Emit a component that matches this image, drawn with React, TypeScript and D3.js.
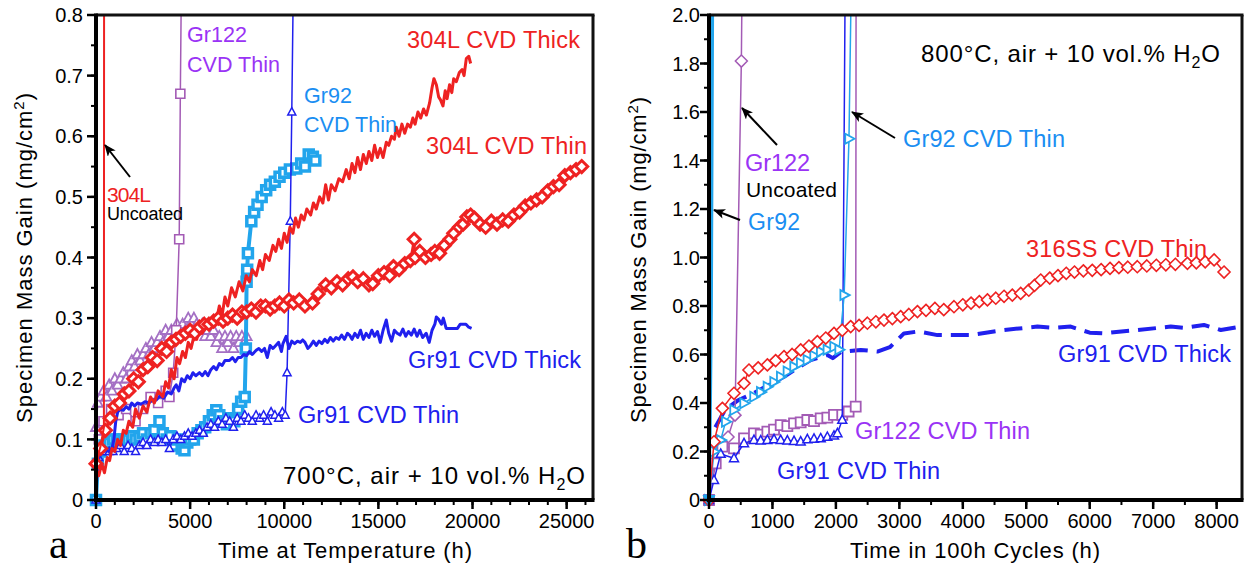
import React from 'react';
import * as d3 from 'd3';

type P = [number, number];

// ---------------- Panel a : 700°C, time at temperature (h) vs mass gain (mg/cm²)
const a304LUncoated: P[] = [[0, 0.06], [250, 0.09], [420, 0.12], [430, 0.9]];

const a304LThin: P[] = [[0,0.06],[250,0.085],[500,0.115],[750,0.135],[1000,0.155],[1250,0.16],[1500,0.175],[1750,0.18],[2000,0.2],[2250,0.195],[2500,0.215],[2750,0.22],[3000,0.235],[3250,0.23],[3500,0.25],[3750,0.245],[4000,0.26],[4250,0.265],[4500,0.27],[4750,0.275],[5000,0.28],[5250,0.275],[5500,0.285],[5750,0.29],[6000,0.29],[6250,0.295],[6500,0.3],[6750,0.295],[7000,0.3],[7250,0.305],[7500,0.3],[7750,0.31],[8000,0.31],[8250,0.315],[8500,0.31],[8750,0.32],[9000,0.32],[9250,0.315],[9500,0.32],[9750,0.325],[10000,0.32],[10250,0.33],[10500,0.325],[10800,0.33],[11100,0.32],[11500,0.325],[11800,0.34],[12200,0.355],[12500,0.35],[12800,0.36],[13100,0.355],[13400,0.365],[13650,0.368],[13900,0.36],[14200,0.365],[14500,0.355],[14700,0.357],[15000,0.37],[15300,0.375],[15600,0.37],[15800,0.385],[16100,0.38],[16400,0.39],[16700,0.395],[16900,0.43],[16950,0.4],[17200,0.41],[17500,0.4],[17800,0.405],[18000,0.41],[18250,0.407],[18500,0.42],[18800,0.43],[19000,0.44],[19300,0.45],[19500,0.455],[19700,0.467],[19900,0.47],[20100,0.465],[20400,0.455],[20700,0.45],[21000,0.46],[21300,0.455],[21600,0.462],[21900,0.46],[22200,0.47],[22500,0.475],[22800,0.485],[23100,0.49],[23400,0.495],[23700,0.5],[24000,0.51],[24300,0.517],[24600,0.52],[24900,0.535],[25200,0.54],[25500,0.545],[25800,0.55]];

const a304LThick: P[] = [[0,0.05],[150,0.04],[300,0.06],[450,0.045],[600,0.07],[720,0.065],[850,0.085],[1000,0.08],[1150,0.1],[1300,0.09],[1450,0.115],[1600,0.11],[1750,0.13],[1950,0.12],[2100,0.15],[2300,0.135],[2500,0.155],[2700,0.145],[2900,0.17],[3100,0.16],[3300,0.18],[3550,0.17],[3700,0.195],[3850,0.185],[4000,0.215],[4150,0.2],[4300,0.235],[4440,0.225],[4600,0.245],[4750,0.235],[4900,0.26],[5050,0.25],[5200,0.27],[5350,0.265],[5500,0.285],[5650,0.275],[5800,0.295],[6000,0.285],[6200,0.3],[6390,0.295],[6550,0.32],[6700,0.305],[6850,0.335],[7000,0.32],[7200,0.35],[7400,0.335],[7600,0.36],[7800,0.345],[7980,0.37],[8150,0.36],[8300,0.38],[8510,0.37],[8700,0.395],[8850,0.38],[9000,0.405],[9200,0.395],[9400,0.42],[9550,0.41],[9700,0.43],[9850,0.415],[10000,0.44],[10150,0.425],[10300,0.45],[10460,0.44],[10600,0.465],[10750,0.45],[10900,0.47],[11050,0.462],[11200,0.48],[11400,0.47],[11550,0.49],[11700,0.48],[11880,0.5],[12050,0.49],[12200,0.52],[12350,0.495],[12500,0.52],[12700,0.51],[12900,0.53],[13100,0.525],[13290,0.545],[13450,0.53],[13600,0.555],[13750,0.54],[13900,0.565],[14050,0.545],[14200,0.57],[14360,0.555],[14500,0.575],[14650,0.56],[14800,0.585],[14950,0.565],[15100,0.58],[15250,0.565],[15420,0.59],[15550,0.585],[15700,0.6],[15850,0.595],[15950,0.615],[16100,0.6],[16250,0.62],[16400,0.605],[16550,0.62],[16700,0.615],[16830,0.63],[16950,0.62],[17100,0.64],[17250,0.63],[17400,0.645],[17550,0.635],[17720,0.655],[17850,0.68],[17950,0.695],[18080,0.685],[18200,0.665],[18300,0.66],[18430,0.65],[18550,0.675],[18650,0.662],[18780,0.685],[18900,0.672],[19000,0.695],[19140,0.69],[19300,0.705],[19450,0.71],[19550,0.7],[19670,0.728],[19800,0.732],[19900,0.72]];

const aGr91Thick: P[] = [[100,0.06],[250,0.08],[400,0.08],[550,0.082],[700,0.08],[850,0.085],[950,0.1],[1050,0.13],[1150,0.145],[1300,0.15],[1450,0.148],[1600,0.154],[1750,0.15],[1900,0.16],[2050,0.155],[2200,0.16],[2400,0.158],[2600,0.162],[2800,0.16],[3000,0.165],[3200,0.165],[3400,0.172],[3600,0.168],[3800,0.178],[4000,0.175],[4150,0.185],[4260,0.19],[4400,0.18],[4550,0.2],[4700,0.195],[4850,0.205],[5000,0.2],[5150,0.21],[5300,0.205],[5500,0.21],[5650,0.205],[5800,0.212],[5950,0.205],[6100,0.215],[6250,0.22],[6400,0.215],[6550,0.225],[6700,0.222],[6850,0.23],[7090,0.23],[7250,0.235],[7400,0.228],[7550,0.235],[7700,0.235],[7850,0.24],[8000,0.238],[8150,0.245],[8300,0.24],[8510,0.247],[8650,0.25],[8800,0.245],[8950,0.25],[9100,0.235],[9250,0.255],[9400,0.25],[9550,0.255],[9700,0.26],[9850,0.245],[9930,0.258],[10100,0.27],[10250,0.25],[10400,0.262],[10550,0.258],[10700,0.262],[10850,0.26],[10980,0.264],[11100,0.26],[11250,0.25],[11400,0.255],[11550,0.262],[11700,0.255],[11850,0.262],[12000,0.258],[12150,0.265],[12300,0.26],[12450,0.268],[12600,0.262],[12750,0.268],[12900,0.265],[13050,0.272],[13200,0.265],[13350,0.275],[13470,0.272],[13600,0.265],[13750,0.275],[13900,0.268],[14050,0.28],[14200,0.265],[14350,0.275],[14500,0.268],[14650,0.28],[14800,0.27],[14950,0.278],[15100,0.26],[15250,0.28],[15420,0.297],[15550,0.275],[15700,0.262],[15850,0.28],[16000,0.275],[16150,0.272],[16300,0.282],[16450,0.27],[16600,0.278],[16750,0.272],[16900,0.282],[17050,0.27],[17200,0.28],[17350,0.268],[17540,0.275],[17700,0.26],[17850,0.28],[18000,0.29],[18080,0.302],[18200,0.298],[18350,0.29],[18450,0.3],[18600,0.283],[18800,0.283],[19000,0.283],[19200,0.283],[19350,0.29],[19500,0.29],[19650,0.29],[19800,0.285],[19950,0.283]];

const aGr91Thin: P[] = [[0,0],[150,0.07],[300,0.08],[500,0.08],[700,0.08],[900,0.08],[1100,0.085],[1300,0.09],[1500,0.08],[1700,0.09],[1900,0.085],[2100,0.08],[2300,0.09],[2500,0.095],[2700,0.09],[2900,0.1],[3100,0.095],[3300,0.1],[3500,0.095],[3700,0.1],[3900,0.085],[4100,0.1],[4300,0.105],[4500,0.1],[4700,0.105],[4900,0.11],[5100,0.105],[5300,0.11],[5500,0.115],[5700,0.11],[5900,0.12],[6100,0.125],[6300,0.12],[6500,0.13],[6700,0.125],[6900,0.135],[7100,0.13],[7300,0.12],[7500,0.135],[7700,0.13],[7900,0.14],[8100,0.135],[8300,0.13],[8500,0.14],[8700,0.135],[8900,0.14],[9100,0.13],[9300,0.145],[9500,0.14],[9700,0.135],[9900,0.145],[10050,0.14],[10150,0.21],[10320,0.46],[10400,0.64],[10500,0.9]];

const aGr92Thin: P[] = [[0,0],[100,0.06],[250,0.08],[450,0.09],[700,0.094],[900,0.1],[1100,0.1],[1300,0.095],[1500,0.1],[1700,0.1],[1900,0.105],[2100,0.1],[2310,0.104],[2500,0.11],[2700,0.1],[2900,0.11],[3100,0.115],[3370,0.13],[3550,0.11],[3750,0.1],[3950,0.105],[4150,0.09],[4350,0.1],[4550,0.085],[4700,0.082],[4850,0.095],[5000,0.1],[5200,0.1],[5400,0.11],[5600,0.115],[5800,0.12],[6000,0.13],[6200,0.14],[6390,0.148],[6550,0.14],[6750,0.13],[6950,0.125],[7150,0.135],[7350,0.13],[7550,0.15],[7710,0.162],[7900,0.17],[7960,0.25],[8000,0.36],[8030,0.38],[8070,0.407],[8250,0.46],[8400,0.475],[8580,0.487],[8800,0.5],[9040,0.511],[9250,0.52],[9500,0.525],[9750,0.533],[10000,0.54],[10300,0.545],[10640,0.547],[10900,0.555],[11100,0.55],[11300,0.57],[11520,0.566],[11650,0.56]];

const aGr122Thin: P[] = [[0,0],[150,0.1],[400,0.13],[800,0.15],[1200,0.14],[1600,0.15],[2100,0.13],[2500,0.15],[2900,0.17],[3300,0.16],[3700,0.18],[3900,0.17],[4100,0.21],[4260,0.28],[4420,0.43],[4480,0.67],[4550,0.9]];

const aGr122Tri: P[] = [[0,0.12],[100,0.16],[250,0.17],[400,0.18],[550,0.17],[700,0.19],[850,0.18],[1000,0.2],[1150,0.19],[1300,0.2],[1450,0.21],[1600,0.2],[1750,0.22],[1900,0.23],[2050,0.22],[2200,0.24],[2350,0.23],[2500,0.24],[2650,0.25],[2800,0.24],[2950,0.26],[3100,0.25],[3250,0.26],[3400,0.27],[3550,0.26],[3700,0.28],[3850,0.27],[4000,0.28],[4150,0.27],[4300,0.29],[4450,0.28],[4600,0.29],[4750,0.28],[4900,0.3],[5050,0.29],[5200,0.3],[5350,0.29],[5500,0.28],[5650,0.29],[5800,0.27],[5950,0.28],[6100,0.27],[6250,0.28],[6400,0.26],[6550,0.27],[6700,0.25],[6850,0.27],[7000,0.26],[7150,0.27],[7300,0.25],[7450,0.27],[7600,0.26],[7750,0.27],[7900,0.26],[8000,0.27]];

const aXTicks = [0, 5000, 10000, 15000, 20000, 25000];
const aYTicks = [0, 0.1, 0.2, 0.3, 0.4, 0.5, 0.6, 0.7, 0.8];

// ---------------- Panel b : 800°C, time in 100h cycles
const bGr92Uncoated: P[] = [[0, 0], [30, 0.8], [50, 2.1]];
const bGr122Uncoated: P[] = [[0,0],[80,0.15],[200,0.22],[300,0.26],[410,0.35],[510,1.81],[520,2.1]];
const bGr92Thin: P[] = [[0,0],[80,0.2],[184,0.247],[263,0.323],[394,0.371],[552,0.399],[709,0.426],[815,0.445],[920,0.467],[1025,0.487],[1130,0.508],[1235,0.53],[1340,0.55],[1445,0.565],[1550,0.577],[1655,0.595],[1760,0.612],[1865,0.62],[1970,0.632],[2050,0.62],[2130,0.845],[2206,1.49],[2240,2.1]];
const bGr91Thin: P[] = [[0,0],[79,0.082],[184,0.19],[394,0.172],[552,0.234],[709,0.247],[815,0.245],[920,0.247],[1025,0.25],[1130,0.247],[1235,0.245],[1340,0.243],[1445,0.241],[1550,0.25],[1655,0.252],[1760,0.254],[1865,0.26],[1970,0.265],[2024,0.275],[2100,0.33],[2145,2.1]];
const bGr122Thin: P[] = [[0,0],[106,0.151],[211,0.22],[394,0.213],[552,0.254],[709,0.275],[815,0.27],[920,0.282],[1025,0.29],[1130,0.309],[1235,0.305],[1340,0.316],[1445,0.32],[1550,0.33],[1655,0.325],[1760,0.337],[1865,0.34],[1970,0.351],[2100,0.351],[2200,0.365],[2312,0.385],[2318,2.1]];
const b316SSThin: P[] = [[0,0],[79,0.24],[211,0.378],[394,0.44],[552,0.481],[630,0.536],[775,0.545],[920,0.557],[1050,0.575],[1182,0.591],[1310,0.6],[1445,0.619],[1575,0.635],[1708,0.653],[1840,0.668],[1970,0.687],[2100,0.7],[2233,0.715],[2365,0.72],[2496,0.729],[2630,0.735],[2758,0.742],[2890,0.748],[3021,0.756],[3150,0.765],[3285,0.777],[3420,0.782],[3560,0.79],[3700,0.785],[3861,0.797],[4000,0.805],[4130,0.812],[4260,0.818],[4388,0.825],[4520,0.832],[4650,0.84],[4780,0.845],[4912,0.852],[5040,0.865],[5130,0.885],[5228,0.907],[5370,0.915],[5500,0.925],[5630,0.935],[5760,0.94],[5900,0.945],[6040,0.947],[6180,0.95],[6320,0.955],[6460,0.958],[6600,0.96],[6750,0.962],[6900,0.965],[7050,0.968],[7200,0.97],[7350,0.972],[7540,0.976],[7680,0.978],[7820,0.982],[7960,0.99],[8117,0.94]];
const bGr91Thick: P[] = [[100,0.3],[250,0.37],[450,0.41],[700,0.44],[950,0.475],[1182,0.508],[1400,0.545],[1603,0.577],[1866,0.598],[1950,0.585],[2075,0.61],[2390,0.619],[2654,0.612],[2850,0.63],[3073,0.687],[3300,0.695],[3600,0.68],[4125,0.68],[4650,0.701],[5176,0.715],[5450,0.71],[5700,0.715],[6000,0.69],[6225,0.687],[6500,0.695],[6752,0.701],[7277,0.715],[7500,0.71],[7800,0.722],[8065,0.701],[8380,0.715]];
const bOriginMarks: P[] = [[0, 0]];

const bXTicks = [0, 1000, 2000, 3000, 4000, 5000, 6000, 7000, 8000];
const bYTicks = [0, 0.2, 0.4, 0.6, 0.8, 1.0, 1.2, 1.4, 1.6, 1.8, 2.0];

// ---------------- styling
const FONT = "'Liberation Sans', Arial, Helvetica, sans-serif";
const RED = '#ee2222';
const BLUE = '#2020ee';
const LBLUE = '#22a5ec';
const LBLUE_TXT = '#1a8ef2';
const PURPLE = '#a35bb5';
const PURPLE_LT = '#a470c4';
const VIOLET = '#9a33f5';

type Shape = 'square' | 'diamond' | 'triUp' | 'triDown' | 'triRight';
function markerPath(shape: Shape, s: number): string {
  const h = s / 2;
  switch (shape) {
    case 'square': return `M${-h},${-h}H${h}V${h}H${-h}Z`;
    case 'diamond': { const k = h * 1.2; return `M0,${-k}L${k},0L0,${k}L${-k},0Z`; }
    case 'triUp': return `M0,${-h * 1.1}L${h},${h * 0.75}L${-h},${h * 0.75}Z`;
    case 'triDown': return `M0,${h * 1.1}L${h},${-h * 0.75}L${-h},${-h * 0.75}Z`;
    case 'triRight': return `M${h * 1.1},0L${-h * 0.75},${h}L${-h * 0.75},${-h}Z`;
  }
}

interface SeriesProps {
  data: P[]; x: d3.ScaleLinear<number, number>; y: d3.ScaleLinear<number, number>;
  color: string; width: number; dash?: string; marker?: Shape; msize?: number; mstroke?: number; mfill?: string; mcolor?: string; noLine?: boolean;
}
function Series({ data, x, y, color, width, dash, marker, msize = 9, mstroke = 1.5, mfill = '#fff', mcolor, noLine }: SeriesProps) {
  const line = d3.line<P>().x(d => x(d[0])).y(d => y(d[1]));
  return (
    <g>
      {!noLine && <path d={line(data) || ''} fill="none" stroke={color} strokeWidth={width} strokeDasharray={dash} strokeLinejoin="round" />}
      {marker && data.map((d, i) => (
        <path key={i} d={markerPath(marker, msize)} transform={`translate(${x(d[0])},${y(d[1])})`} fill={mfill} stroke={mcolor || color} strokeWidth={mstroke} />
      ))}
    </g>
  );
}

interface AxesProps {
  x: d3.ScaleLinear<number, number>; y: d3.ScaleLinear<number, number>;
  xTicks: number[]; xMinorStep: number; yTicks: number[]; yMinorStep: number;
  left: number; right: number; top: number; bottom: number; yLabelX: number; yFmt: (v: number) => string;
}
function Axes({ x, y, xTicks, xMinorStep, yTicks, yMinorStep, left, right, top, bottom, yLabelX, yFmt }: AxesProps) {
  const xd = x.domain();
  const yd = y.domain();
  const xMinor = d3.range(0, xd[1] + 1e-6, xMinorStep);
  const yMinor = d3.range(0, yd[1] + 1e-6, yMinorStep);
  return (
    <g>
      {xMinor.map((t, i) => <line key={'xm' + i} x1={x(t)} x2={x(t)} y1={bottom} y2={bottom + 5} stroke="#000" strokeWidth={2} />)}
      {xTicks.map((t, i) => (
        <g key={'xt' + i}>
          <line x1={x(t)} x2={x(t)} y1={bottom} y2={bottom + 9} stroke="#000" strokeWidth={2.5} />
          <text x={x(t)} y={528} textAnchor="middle" fontSize={20} fontFamily={FONT} fill="#000">{String(t)}</text>
        </g>
      ))}
      {yMinor.map((v, i) => <line key={'ym' + i} x1={left - 5} x2={left} y1={y(v)} y2={y(v)} stroke="#000" strokeWidth={2} />)}
      {yTicks.map((v, i) => (
        <g key={'yt' + i}>
          <line x1={left - 9} x2={left} y1={y(v)} y2={y(v)} stroke="#000" strokeWidth={2.5} />
          <text x={yLabelX} y={y(v)} dy="0.36em" textAnchor="end" fontSize={20} fontFamily={FONT} fill="#000">{yFmt(v)}</text>
        </g>
      ))}
      <line x1={left} x2={right + 1.5} y1={top} y2={top} stroke="#111" strokeWidth={3} />
      <line x1={right} x2={right} y1={top} y2={bottom} stroke="#111" strokeWidth={3} />
      <line x1={left} x2={left} y1={top - 1.5} y2={bottom + 2} stroke="#000" strokeWidth={4} />
      <line x1={left - 2} x2={right + 1.5} y1={bottom} y2={bottom} stroke="#000" strokeWidth={4} />
    </g>
  );
}

function Lbl({ x, y, w, size, color, children }: { x: number; y: number; w?: number; size: number; color: string; children: React.ReactNode }) {
  return (
    <text x={x} y={y} fontSize={size} fill={color} fontFamily={FONT} textLength={w} lengthAdjust={w ? 'spacing' : undefined}>{children}</text>
  );
}

function Arrow({ x1, y1, x2, y2 }: { x1: number; y1: number; x2: number; y2: number }) {
  return <line x1={x1} y1={y1} x2={x2} y2={y2} stroke="#000" strokeWidth={2} markerEnd="url(#arrowhead)" />;
}

export default function App() {
  // Panel a geometry
  const A = { left: 96, right: 593, top: 15, bottom: 500 };
  const xa = d3.scaleLinear().domain([0, 26400]).range([A.left, A.right]);
  const ya = d3.scaleLinear().domain([0, 0.8]).range([A.bottom, A.top]);
  // Panel b geometry
  const B = { left: 709, right: 1242, top: 15, bottom: 500 };
  const xb = d3.scaleLinear().domain([0, 8400]).range([B.left, B.right]);
  const yb = d3.scaleLinear().domain([0, 2]).range([B.bottom, B.top]);

  const fmtA = (v: number) => (v === 0 ? '0' : d3.format('.1f')(v));
  const fmtB = (v: number) => (v === 0 ? '0' : d3.format('.1f')(v));

  return (
    <svg width={1249} height={567} viewBox="0 0 1249 567" style={{ position: 'absolute', left: 0, top: 0, background: '#fff', display: 'block' }}>
      <defs>
        <clipPath id="clipA"><rect x={A.left - 12} y={A.top} width={A.right - A.left + 12} height={A.bottom - A.top + 12} /></clipPath>
        <clipPath id="clipB"><rect x={B.left - 12} y={B.top} width={B.right - B.left + 12} height={B.bottom - B.top + 12} /></clipPath>
        <marker id="arrowhead" viewBox="0 0 12 10" refX="11" refY="5" markerWidth="12" markerHeight="10" markerUnits="userSpaceOnUse" orient="auto">
          <path d="M0,0L12,5L0,10L3,5Z" fill="#000" />
        </marker>
      </defs>
      <rect x={0} y={0} width={1249} height={567} fill="#fff" />

      {/* ---------- Panel a ---------- */}
      <g clipPath="url(#clipA)">
        <Series data={aGr122Tri} x={xa} y={ya} color={PURPLE_LT} width={1.5} marker="triUp" msize={10} mstroke={1.8} />
        <Series data={aGr122Thin} x={xa} y={ya} color={PURPLE} width={1.5} marker="square" msize={9} mstroke={1.6} />
        <Series data={aGr92Thin} x={xa} y={ya} color={LBLUE} width={4} marker="square" msize={9} mstroke={3.5} />
        <Series data={aGr91Thin} x={xa} y={ya} color={BLUE} width={1.5} marker="triUp" msize={8} mstroke={1.5} />
        <Series data={aGr91Thick} x={xa} y={ya} color={BLUE} width={3} />
        <Series data={a304LThick} x={xa} y={ya} color={RED} width={3} />
        <Series data={a304LThin} x={xa} y={ya} color={RED} width={2.5} marker="diamond" msize={10} mstroke={3} />
        <Series data={a304LUncoated} x={xa} y={ya} color={RED} width={2} />
      </g>
      <Axes x={xa} y={ya} xTicks={aXTicks} xMinorStep={1000} yTicks={aYTicks} yMinorStep={0.05}
        left={A.left} right={A.right} top={A.top} bottom={A.bottom} yLabelX={83} yFmt={fmtA} />

      <Lbl x={187} y={42} w={60} size={21.5} color={VIOLET}>Gr122</Lbl>
      <Lbl x={187} y={72} w={93} size={21.5} color={VIOLET}>CVD Thin</Lbl>
      <Lbl x={407} y={48} w={173} size={23.5} color={RED}>304L CVD Thick</Lbl>
      <Lbl x={304} y={103} w={48} size={21.5} color={LBLUE_TXT}>Gr92</Lbl>
      <Lbl x={304} y={132} w={93} size={21.5} color={LBLUE_TXT}>CVD Thin</Lbl>
      <Lbl x={426} y={154} w={161} size={23.5} color={RED}>304L CVD Thin</Lbl>
      <Lbl x={107} y={202} w={44} size={21} color={RED}>304L</Lbl>
      <Lbl x={107} y={220} w={76} size={18} color="#000">Uncoated</Lbl>
      <Arrow x1={130} y1={177} x2={105} y2={145} />
      <Lbl x={408} y={368} w={173} size={23.5} color={BLUE}>Gr91 CVD Thick</Lbl>
      <Lbl x={298} y={423} w={161} size={23.5} color={BLUE}>Gr91 CVD Thin</Lbl>
      <text x={283} y={484} fontSize={24} fontFamily={FONT} fill="#000" textLength={302} lengthAdjust="spacing">
        700°C, air + 10 vol.% H<tspan dy={6} fontSize={16}>2</tspan><tspan dy={-6}>O</tspan>
      </text>
      <text x={345} y={558} textAnchor="middle" fontSize={22} fontFamily={FONT} fill="#000" textLength={254} lengthAdjust="spacing">Time at Temperature (h)</text>
      <text transform="translate(32,258) rotate(-90)" textAnchor="middle" fontSize={22} fontFamily={FONT} fill="#000" textLength={330} lengthAdjust="spacing">
        Specimen Mass Gain (mg/cm<tspan dy={-8} fontSize={15}>2</tspan><tspan dy={8}>)</tspan>
      </text>
      <text x={49} y={558} fontSize={42} fontFamily="'Liberation Serif', 'Times New Roman', serif" fill="#000">a</text>

      {/* ---------- Panel b ---------- */}
      <g clipPath="url(#clipB)">
        <Series data={bGr91Thick} x={xb} y={yb} color={BLUE} width={4} dash="18,9" />
        <Series data={bGr92Uncoated} x={xb} y={yb} color={LBLUE} width={4} />
        <Series data={bGr122Uncoated} x={xb} y={yb} color={PURPLE} width={1.5} marker="diamond" msize={10} mstroke={1.5} />
        <Series data={bGr122Thin} x={xb} y={yb} color={PURPLE} width={1.5} marker="square" msize={10} mstroke={1.8} />
        <Series data={bGr91Thin} x={xb} y={yb} color={BLUE} width={1.5} marker="triUp" msize={9} mstroke={1.5} />
        <Series data={bGr92Thin} x={xb} y={yb} color={LBLUE} width={1.5} marker="triRight" msize={10} mstroke={1.8} />
        <Series data={b316SSThin} x={xb} y={yb} color={RED} width={1.5} marker="diamond" msize={10} mstroke={1.6} />
        <Series data={bOriginMarks} x={xb} y={yb} color={LBLUE} width={0} noLine marker="triDown" msize={12} mstroke={1} mfill={LBLUE} />
      </g>
      <Axes x={xb} y={yb} xTicks={bXTicks} xMinorStep={500} yTicks={bYTicks} yMinorStep={0.1}
        left={B.left} right={B.right} top={B.top} bottom={B.bottom} yLabelX={700} yFmt={fmtB} />

      <text x={921} y={62} fontSize={24} fontFamily={FONT} fill="#000" textLength={299} lengthAdjust="spacing">
        800°C, air + 10 vol.% H<tspan dy={6} fontSize={16}>2</tspan><tspan dy={-6}>O</tspan>
      </text>
      <Lbl x={903} y={147} w={162} size={23.5} color={LBLUE_TXT}>Gr92 CVD Thin</Lbl>
      <Arrow x1={895} y1={138} x2={852} y2={112} />
      <Lbl x={745} y={171} w={65} size={23.5} color={VIOLET}>Gr122</Lbl>
      <Lbl x={746} y={197} w={91} size={21} color="#000">Uncoated</Lbl>
      <Arrow x1={777} y1={145} x2={742} y2={108} />
      <Lbl x={748} y={230} w={52} size={23} color={LBLUE_TXT}>Gr92</Lbl>
      <Arrow x1={740} y1={220} x2={714} y2={210} />
      <Lbl x={1026} y={257} w={181} size={23.5} color={RED}>316SS CVD Thin</Lbl>
      <Lbl x={1058} y={362} w={173} size={23.5} color={BLUE}>Gr91 CVD Thick</Lbl>
      <Lbl x={855} y={439} w={175} size={23.5} color={VIOLET}>Gr122 CVD Thin</Lbl>
      <Lbl x={777} y={479} w={163} size={23.5} color={BLUE}>Gr91 CVD Thin</Lbl>
      <text x={975} y={558} textAnchor="middle" fontSize={22} fontFamily={FONT} fill="#000" textLength={250} lengthAdjust="spacing">Time in 100h Cycles (h)</text>
      <text transform="translate(646,260) rotate(-90)" textAnchor="middle" fontSize={22} fontFamily={FONT} fill="#000" textLength={326} lengthAdjust="spacing">
        Specimen Mass Gain (mg/cm<tspan dy={-8} fontSize={15}>2</tspan><tspan dy={8}>)</tspan>
      </text>
      <text x={626} y={558} fontSize={42} fontFamily="'Liberation Serif', 'Times New Roman', serif" fill="#000">b</text>
    </svg>
  );
}
